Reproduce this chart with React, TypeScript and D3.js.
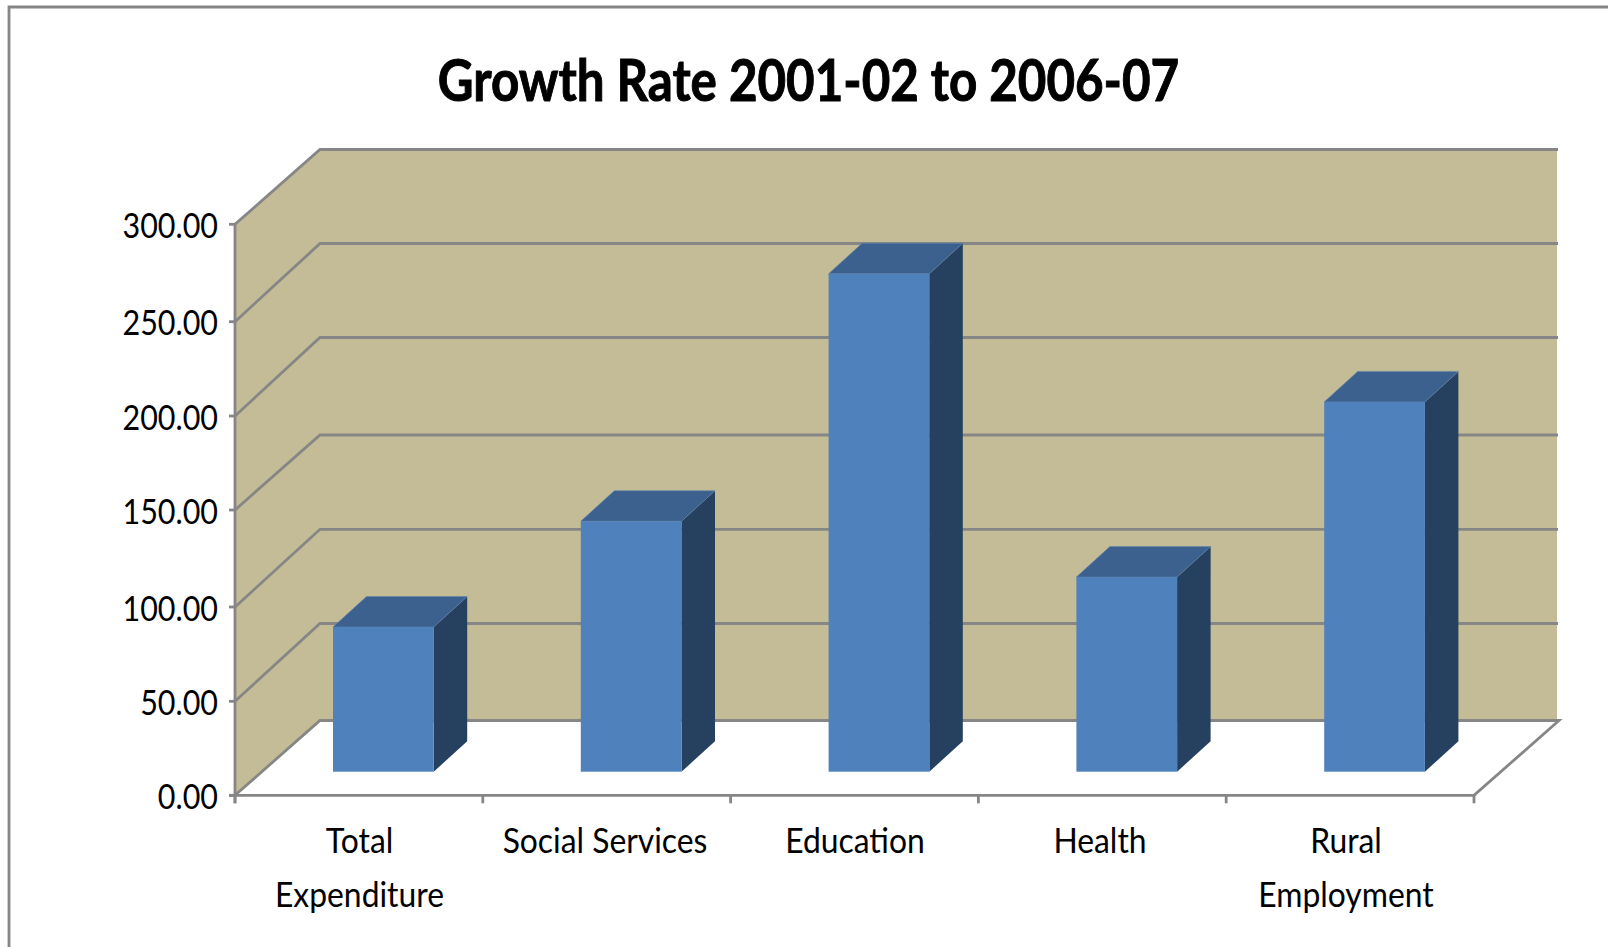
import React from "react";
import * as d3 from "d3";

// Growth rate by budget head
const categories = ["Total Expenditure", "Social Services", "Education", "Health", "Rural Employment"];
const labelLines = [["Total", "Expenditure"], ["Social Services"], ["Education"], ["Health"], ["Rural", "Employment"]];
const growthRates = [76, 131.6, 261.6, 102.3, 194.3];
const tickValues = [0, 50, 100, 150, 200, 250, 300];
const tickLabels = ["0.00", "50.00", "100.00", "150.00", "200.00", "250.00", "300.00"];

const WIDTH = 1608;
const HEIGHT = 947;
const LINE = "#868686";
const LINE_W = 2.8;
const WALL = "#c4bc96";
const FRONT = "#4f81bd";
const SIDE = "#264060";
const TOP = "#3c618f";
const FONT = "Lato, 'Noto Sans', sans-serif";

// Axis rows on the front and back planes of the 3D box
const yFront = d3.scaleLinear().domain(tickValues).range([795.3, 701.3, 607, 510, 416, 321.7, 224.3]);
const yBack = d3.scaleLinear().domain(tickValues).range([720.5, 623.5, 529.3, 435, 337.5, 243.5, 149.5]);
const xAxis = d3.scaleLinear().domain([0, categories.length]).range([235, 1474]);
const DEPTH_X = 85;

// Bars stand in the middle of the floor's depth
const xBar = d3.scaleBand().domain(categories).range([259.45, 1498.45]).paddingInner(0.5936).paddingOuter(0.2968);
const yBar = d3.scaleLinear().domain([0, 300]).range([771.7, 200.7]);
const BAR_DX = 33.5;
const BAR_DY = 30.5;
const xLabel = d3.scaleOrdinal<string, number>().domain(categories).range([359.5, 605, 855, 1100, 1346]);

const pts = (p: number[][]) => p.map((q) => q.join(",")).join(" ");

function Squeezed({ x, y, sx, size, weight, anchor, stroke, children }: any) {
  return (
    <text
      transform={`translate(${x},${y}) scale(${sx},1)`}
      fontFamily={FONT}
      fontSize={size}
      fontWeight={weight ?? 400}
      textAnchor={anchor}
      fill="#000"
      stroke={stroke ? "#000" : "none"}
      strokeWidth={stroke ?? 0}
    >
      {children}
    </text>
  );
}

export default function App() {
  const x0 = xAxis(0);
  const x1 = xAxis(categories.length);
  const bx0 = x0 + DEPTH_X;
  const bx1 = x1 + DEPTH_X;

  return (
    <svg
      width={WIDTH}
      height={HEIGHT}
      style={{ position: "absolute", left: 0, top: 0, display: "block", background: "#fff" }}
    >
      <path d={`M9,${HEIGHT}V7H${WIDTH}`} fill="none" stroke={LINE} strokeWidth={LINE_W} />

      <Squeezed x={808.5} y={100.5} sx={0.85} size={58} weight={700} anchor="middle" stroke={1}>
        Growth Rate 2001-02 to 2006-07
      </Squeezed>

      {/* walls */}
      <polygon points={pts([[bx0, yBack(300)], [bx1 - 2, yBack(300)], [bx1 - 2, yBack(0)], [bx0, yBack(0)]])} fill={WALL} />
      <polygon points={pts([[x0, yFront(300)], [bx0, yBack(300)], [bx0, yBack(0)], [x0, yFront(0)]])} fill={WALL} />

      {/* gridlines run along the left wall and the back wall */}
      {tickValues.map((v) => (
        <polyline
          key={v}
          points={pts([[x0, yFront(v)], [bx0, yBack(v)], [bx1 - 1, yBack(v)]])}
          fill="none"
          stroke={LINE}
          strokeWidth={LINE_W}
        />
      ))}

      {/* floor edges and axes */}
      <polyline
        points={pts([[bx1 - 2, yBack(0)], [bx1, yBack(0)], [x1, yFront(0)], [x0 - 6, yFront(0)]])}
        fill="none"
        stroke={LINE}
        strokeWidth={LINE_W}
      />
      <line x1={x0} x2={x0} y1={yFront(300)} y2={yFront(0) + 8} stroke={LINE} strokeWidth={LINE_W} />
      {tickValues.map((v) => (
        <line key={v} x1={x0 - 6} x2={x0} y1={yFront(v)} y2={yFront(v)} stroke={LINE} strokeWidth={LINE_W} />
      ))}
      {d3.range(categories.length + 1).map((i) => (
        <line key={i} x1={xAxis(i)} x2={xAxis(i)} y1={yFront(0)} y2={yFront(0) + 8} stroke={LINE} strokeWidth={LINE_W} />
      ))}

      {/* 3D columns */}
      {categories.map((c, i) => {
        const l = xBar(c)!;
        const r = l + xBar.bandwidth();
        const top = yBar(growthRates[i]);
        const base = yBar(0);
        return (
          <g key={c}>
            <polygon points={pts([[r, top], [r + BAR_DX, top - BAR_DY], [r + BAR_DX, base - BAR_DY], [r, base]])} fill={SIDE} />
            <polygon
              points={pts([[l, top], [r, top], [r + BAR_DX, top - BAR_DY], [l + BAR_DX, top - BAR_DY]])}
              fill={TOP}
              stroke="#5f84ad"
              strokeWidth={0.6}
            />
            <rect x={l} y={top} width={r - l} height={base - top} fill={FRONT} />
          </g>
        );
      })}

      {tickValues.map((v, i) => (
        <Squeezed key={v} x={218} y={yFront(v) + 13.5} sx={0.87} size={35} anchor="end">
          {tickLabels[i]}
        </Squeezed>
      ))}

      {categories.map((c, i) =>
        labelLines[i].map((t, j) => (
          <Squeezed key={t} x={xLabel(c)} y={853 + j * 53.5} sx={0.91} size={35} anchor="middle">
            {t}
          </Squeezed>
        ))
      )}
    </svg>
  );
}
